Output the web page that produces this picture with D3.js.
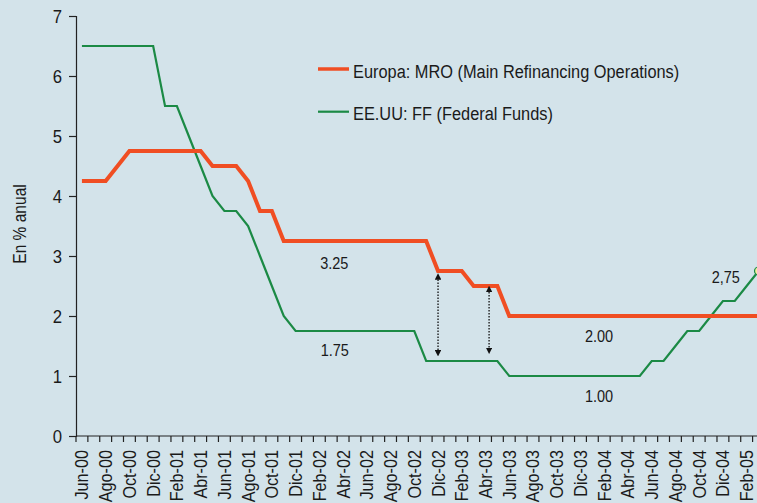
<!DOCTYPE html>
<html>
<head>
<meta charset="utf-8">
<script src="https://cdn.jsdelivr.net/npm/d3@7"></script>
<style>
  html, body { margin: 0; padding: 0; background: #d3e3ea; }
  svg { display: block; }
  text { font-family: "Liberation Sans", Arial, sans-serif; fill: #1a1a1a; }
</style>
</head>
<body>
<svg id="chart" width="757" height="503"></svg>
<script>
const months = ["Jun-00","Jul-00","Ago-00","Sep-00","Oct-00","Nov-00","Dic-00",
  "Ene-01","Feb-01","Mar-01","Abr-01","May-01","Jun-01","Jul-01","Ago-01","Sep-01","Oct-01","Nov-01","Dic-01",
  "Ene-02","Feb-02","Mar-02","Abr-02","May-02","Jun-02","Jul-02","Ago-02","Sep-02","Oct-02","Nov-02","Dic-02",
  "Ene-03","Feb-03","Mar-03","Abr-03","May-03","Jun-03","Jul-03","Ago-03","Sep-03","Oct-03","Nov-03","Dic-03",
  "Ene-04","Feb-04","Mar-04","Abr-04","May-04","Jun-04","Jul-04","Ago-04","Sep-04","Oct-04","Nov-04","Dic-04",
  "Ene-05","Feb-05","Mar-05"];

const tickLabels = ["Jun-00","Ago-00","Oct-00","Dic-00","Feb-01","Abr-01","Jun-01","Ago-01","Oct-01","Dic-01",
  "Feb-02","Abr-02","Jun-02","Ago-02","Oct-02","Dic-02","Feb-03","Abr-03","Jun-03","Ago-03","Oct-03","Dic-03",
  "Feb-04","Abr-04","Jun-04","Ago-04","Oct-04","Dic-04","Feb-05"];

const yTicks = [0,1,2,3,4,5,6,7];

// Europa: MRO (BCE)
const mro = [4.25,4.25,4.25,4.5,4.75,4.75,4.75,
  4.75,4.75,4.75,4.75,4.5,4.5,4.5,4.25,3.75,3.75,3.25,3.25,
  3.25,3.25,3.25,3.25,3.25,3.25,3.25,3.25,3.25,3.25,3.25,2.75,
  2.75,2.75,2.5,2.5,2.5,2.0,2.0,2.0,2.0,2.0,2.0,2.0,
  2.0,2.0,2.0,2.0,2.0,2.0,2.0,2.0,2.0,2.0,2.0,2.0,
  2.0,2.0,2.0];

// EE.UU.: Federal Funds
const ff = [6.5,6.5,6.5,6.5,6.5,6.5,6.5,
  5.5,5.5,5.0,4.5,4.0,3.75,3.75,3.5,3.0,2.5,2.0,1.75,
  1.75,1.75,1.75,1.75,1.75,1.75,1.75,1.75,1.75,1.75,1.25,1.25,
  1.25,1.25,1.25,1.25,1.25,1.0,1.0,1.0,1.0,1.0,1.0,1.0,
  1.0,1.0,1.0,1.0,1.0,1.25,1.25,1.5,1.75,1.75,2.0,2.25,
  2.25,2.5,2.75];

const seriesNames = ["Europa: MRO (Main Refinancing Operations)", "EE.UU: FF (Federal Funds)"];
const seriesColors = ["#f04e23", "#1b8a45"];

// annotations: month index (fractional) and value (text baseline)
const valueLabels = [
  {text: "3.25", m: 21.26, v: 2.79},
  {text: "1.75", m: 21.3, v: 1.333},
  {text: "2.00", m: 43.56, v: 1.567},
  {text: "1.00", m: 43.56, v: 0.572},
  {text: "2,75", m: 54.24, v: 2.555}
];
const arrows = [
  {m: 30, top: 2.66, bottom: 1.38},
  {m: 34.3, top: 2.45, bottom: 1.42}
];

const svg = d3.select("#chart");
const step = 11.87;
const x0 = 76;
const SX = 0.88; // condensed type
const x = d3.scaleBand().domain(months).range([x0, x0 + months.length * step]).padding(0);
const y = d3.scaleLinear().domain([0, 7]).range([436, 16]);
const xc = m => x0 + (m + 0.5) * step; // fractional month center

// Y axis
const yAxis = d3.axisLeft(y).tickValues(yTicks).tickSize(7).tickPadding(7).tickFormat(d3.format("d"));
const gy = svg.append("g").attr("transform", `translate(${x0},0)`).call(yAxis);
gy.select(".domain").attr("stroke", "#222").attr("stroke-width", 1.2);
gy.selectAll(".tick line").attr("stroke", "#222").attr("stroke-width", 1.2);
gy.selectAll("text").style("font-size", "19px").attr("fill", "#1a1a1a")
  .attr("x", -14 / SX).attr("transform", `scale(${SX},1)`);

// X axis: ticks at month boundaries
const gx = svg.append("g").attr("transform", `translate(0,436)`);
gx.append("line").attr("x1", x0).attr("x2", 757).attr("y1", 0).attr("y2", 0).attr("stroke", "#222").attr("stroke-width", 1.2);
gx.selectAll("line.t").data(months).join("line").attr("class", "t")
  .attr("x1", d => x(d)).attr("x2", d => x(d)).attr("y1", 0).attr("y2", 6)
  .attr("stroke", "#222").attr("stroke-width", 1.2);
const xAxis = d3.axisBottom(x).tickValues(tickLabels).tickSize(0).tickPadding(0);
const gxl = svg.append("g").attr("transform", `translate(0,436)`).call(xAxis);
gxl.select(".domain").remove();
const XS = 0.9;
gxl.selectAll("text")
  .style("font-size", "18px").attr("fill", "#1a1a1a")
  .attr("text-anchor", "end")
  .attr("transform", `rotate(-90) scale(${XS},1)`)
  .attr("x", -14 / XS).attr("y", 0).attr("dy", "0.36em");

// Y label
svg.append("text").attr("transform", "translate(20,224) rotate(-90) scale(0.84,1)")
  .attr("text-anchor", "middle").attr("dy", "0.35em").style("font-size", "18.5px").text("En % anual");

// Lines
const line = d3.line().x((d, i) => x(months[i]) + x.bandwidth() / 2).y(d => y(d));
svg.append("path").datum(ff).attr("d", line).attr("fill", "none")
  .attr("stroke", seriesColors[1]).attr("stroke-width", 2.2).attr("stroke-linejoin", "miter");
svg.append("path").datum(mro).attr("d", line).attr("fill", "none")
  .attr("stroke", seriesColors[0]).attr("stroke-width", 4).attr("stroke-linejoin", "miter");

// End marker on FF
const last = ff.length - 1;
svg.append("circle").attr("cx", x(months[last]) + x.bandwidth() / 2).attr("cy", y(ff[last])).attr("r", 4)
  .attr("fill", "#f4f0a0").attr("stroke", seriesColors[1]).attr("stroke-width", 1.2);

// Arrows
const defs = svg.append("defs");
defs.append("marker").attr("id", "ah").attr("viewBox", "0 0 10 10").attr("refX", 5).attr("refY", 5)
  .attr("markerWidth", 5).attr("markerHeight", 5).attr("orient", "auto-start-reverse")
  .append("path").attr("d", "M0,0 L10,5 L0,10 z").attr("fill", "#111");
svg.selectAll("line.arrow").data(arrows).join("line").attr("class", "arrow")
  .attr("x1", d => xc(d.m)).attr("x2", d => xc(d.m))
  .attr("y1", d => y(d.top)).attr("y2", d => y(d.bottom))
  .attr("stroke", "#111").attr("stroke-width", 1.3).attr("stroke-dasharray", "1.5,1.5")
  .attr("marker-start", "url(#ah)").attr("marker-end", "url(#ah)");

// Value labels
svg.selectAll("text.vl").data(valueLabels).join("text").attr("class", "vl")
  .attr("transform", d => `translate(${xc(d.m)},${y(d.v)}) scale(${SX},1)`)
  .attr("text-anchor", "middle")
  .style("font-size", "16.5px").text(d => d.text);

// Legend
const lg = svg.append("g");
seriesNames.forEach((name, i) => {
  const ly = 69 + i * 42.7;
  lg.append("line").attr("x1", 318).attr("x2", 349).attr("y1", ly).attr("y2", ly)
    .attr("stroke", seriesColors[i]).attr("stroke-width", i === 0 ? 3.5 : 2.2);
  lg.append("text").attr("transform", `translate(353,${ly}) scale(${SX},1)`)
    .attr("dy", "0.46em").style("font-size", "18.6px").text(name);
});
</script>
</body>
</html>
